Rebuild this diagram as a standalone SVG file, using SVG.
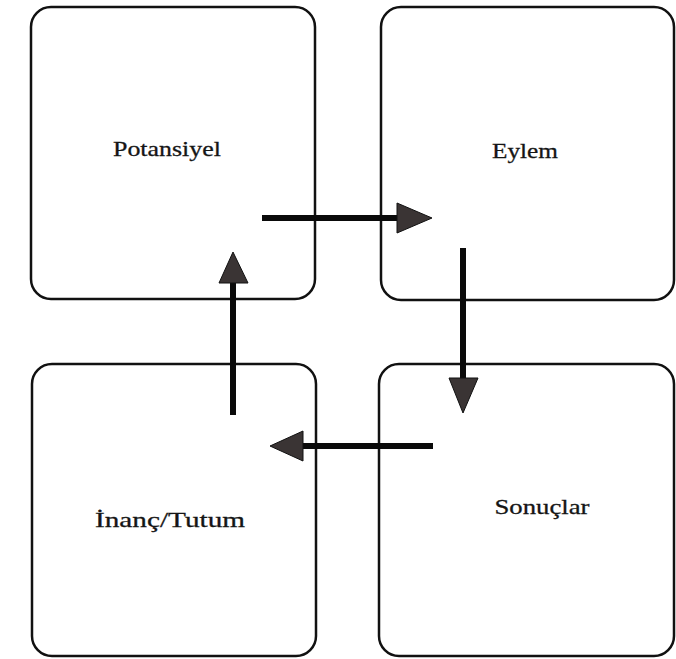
<svg xmlns="http://www.w3.org/2000/svg" width="676" height="659" viewBox="0 0 676 659">
<style>
.box{fill:#fff;stroke:#111;stroke-width:2.5}
.lbl{font-family:"Liberation Serif","DejaVu Serif",serif;font-size:22px;fill:#151515;stroke:#151515;stroke-width:0.3;text-anchor:middle}
.ln{stroke:#0a0a0a;stroke-width:6;fill:none}
.hd{fill:#3a3434;stroke:#111;stroke-width:1}
</style>
<rect width="676" height="659" fill="#fff"/>
<g id="node-potansiyel">
<rect class="box" x="31" y="7" width="284" height="292" rx="20"/>
<text class="lbl" x="167" y="156" textLength="108" lengthAdjust="spacingAndGlyphs">Potansiyel</text>
</g>
<g id="node-eylem">
<rect class="box" x="381" y="7" width="293" height="293" rx="20"/>
<text class="lbl" x="525" y="158" textLength="66" lengthAdjust="spacingAndGlyphs">Eylem</text>
</g>
<g id="node-sonuclar">
<rect class="box" x="379" y="364" width="295" height="292" rx="20"/>
<text class="lbl" x="542" y="514" textLength="95" lengthAdjust="spacingAndGlyphs">Sonuçlar</text>
</g>
<g id="node-inanc">
<rect class="box" x="32" y="364" width="284" height="292" rx="20"/>
<text class="lbl" x="170" y="527" textLength="150" lengthAdjust="spacingAndGlyphs">İnanç/Tutum</text>
</g>
<g id="connectors">
<line class="ln" x1="262" y1="218" x2="400" y2="218"/>
<polygon class="hd" points="397,203 432,218 397,233"/>
<line class="ln" x1="463" y1="248" x2="463" y2="381"/>
<polygon class="hd" points="449,378 478,378 463,413"/>
<line class="ln" x1="433" y1="446" x2="300" y2="446"/>
<polygon class="hd" points="303,431 303,461 270,446"/>
<line class="ln" x1="233" y1="415" x2="233" y2="280"/>
<polygon class="hd" points="219,283 248,283 233,252"/>
</g>
</svg>
